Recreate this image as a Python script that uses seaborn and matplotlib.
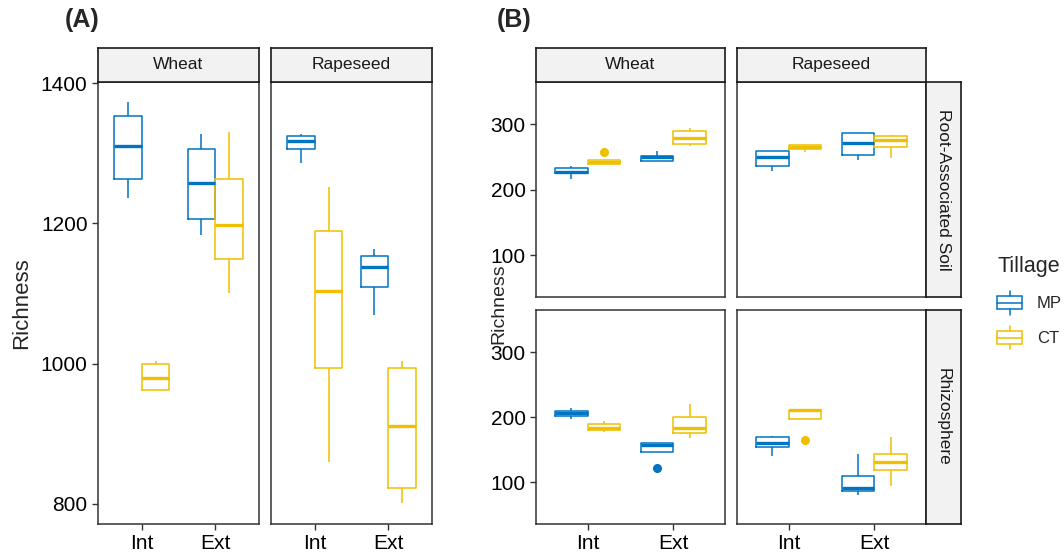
import matplotlib
matplotlib.use("Agg")
import matplotlib.pyplot as plt
import seaborn as sns
import pandas as pd
from matplotlib.patches import Rectangle
from matplotlib.lines import Line2D
from matplotlib.legend_handler import HandlerBase

positions = ["Int", "Ext"]
tillage = ["MP", "CT"]
crops = ["Wheat", "Rapeseed"]
compartments = ["Root-Associated Soil", "Rhizosphere"]
palette = {"MP": "#0073C2", "CT": "#EFC000"}

# (A) total richness, values per (position, tillage)
rich_A_wheat = {
    ("Int", "MP"): [1237, 1263, 1311, 1354, 1373],
    ("Int", "CT"): [962, 962, 980, 999, 1003],
    ("Ext", "MP"): [1184, 1207, 1258, 1307, 1328],
    ("Ext", "CT"): [1101, 1150, 1198, 1264, 1330],
}
rich_A_rapeseed = {
    ("Int", "MP"): [1287, 1306, 1318, 1325, 1328],
    ("Int", "CT"): [860, 994, 1103, 1189, 1252],
    ("Ext", "MP"): [1069, 1110, 1138, 1154, 1164],
    ("Ext", "CT"): [801, 822, 911, 994, 1003],
}

# (B) richness by compartment
rich_B_soil_wheat = {
    ("Int", "MP"): [217, 225, 228, 233, 237],
    ("Int", "CT"): [239, 239, 239, 241, 243, 244, 246, 246, 258],
    ("Ext", "MP"): [244, 244, 250, 252, 260],
    ("Ext", "CT"): [267, 270, 279, 290, 295],
}
rich_B_soil_rapeseed = {
    ("Int", "MP"): [229, 236, 250, 260, 260],
    ("Int", "CT"): [258, 263, 266, 269, 269],
    ("Ext", "MP"): [245, 253, 271, 287, 287],
    ("Ext", "CT"): [249, 265, 276, 282, 284],
}
rich_B_rhizo_wheat = {
    ("Int", "MP"): [198, 202, 206, 210, 214],
    ("Int", "CT"): [177, 180, 184, 190, 195],
    ("Ext", "MP"): [122, 147, 147, 152, 158, 159, 160, 160, 160],
    ("Ext", "CT"): [168, 176, 183, 200, 221],
}
rich_B_rhizo_rapeseed = {
    ("Int", "MP"): [140, 154, 161, 169, 171],
    ("Int", "CT"): [165, 198, 198, 204, 211, 211, 212, 212, 212],
    ("Ext", "MP"): [80, 86, 92, 110, 143],
    ("Ext", "CT"): [94, 119, 132, 143, 169],
}


def to_frame(d):
    rows = []
    for (pos, till), vals in d.items():
        for v in vals:
            rows.append({"Position": pos, "Tillage": till, "Richness": v})
    return pd.DataFrame(rows)


sns.set_style("ticks")
plt.rcParams["font.family"] = ["Liberation Sans", "DejaVu Sans"]

W, H = 1064, 558
fig = plt.figure(figsize=(W / 100, H / 100), dpi=100)


def add_px(l, t, r, b):
    return fig.add_axes([l / W, 1 - b / H, (r - l) / W, (b - t) / H])


def style_axes(ax, show_x, show_y):
    for s in ax.spines.values():
        s.set_visible(True)
        s.set_color("#333333")
        s.set_linewidth(1.1)
    ax.set_xlabel("")
    ax.set_ylabel("")
    ax.tick_params(axis="both", colors="#333333", width=1.0, length=4,
                   labelsize=15, labelcolor="black")
    if not show_x:
        ax.tick_params(axis="x", bottom=False, labelbottom=False)
    if not show_y:
        ax.tick_params(axis="y", left=False, labelleft=False)


def draw_box(ax, d, ylim, yticks, show_x, show_y):
    df = to_frame(d)
    sns.boxplot(data=df, x="Position", y="Richness", hue="Tillage",
                order=positions, hue_order=tillage, palette=palette,
                fill=False, width=0.75, gap=0, linewidth=1.1, showcaps=False,
                medianprops={"linewidth": 2.4},
                flierprops={"marker": "o", "markersize": 5.5},
                legend=False, ax=ax)
    for ln in ax.lines:
        if ln.get_marker() == "o":
            ln.set_markerfacecolor(ln.get_markeredgecolor())
    # ggplot-like discrete expansion around the two categories (at 0 and 1)
    ax.set_xlim(-0.6, 1.6)
    ax.set_ylim(*ylim)
    ax.set_yticks(yticks)
    style_axes(ax, show_x, show_y)


def strip(l, t, r, b, text, rot=0):
    s = add_px(l, t, r, b)
    s.set_facecolor("#F2F2F2")
    s.set_xticks([])
    s.set_yticks([])
    for sp in s.spines.values():
        sp.set_visible(True)
        sp.set_color("#1a1a1a")
        sp.set_linewidth(1.2)
    s.text(0.5, 0.5, text, ha="center", va="center", rotation=rot,
           fontsize=12.5, color="#1a1a1a", transform=s.transAxes)


# ---- panel A
ylimA = (771, 1402)
ticksA = [800, 1000, 1200, 1400]
axA1 = add_px(98, 82, 259, 524)
draw_box(axA1, rich_A_wheat, ylimA, ticksA, True, True)
axA2 = add_px(271, 82, 432, 524)
draw_box(axA2, rich_A_rapeseed, ylimA, ticksA, True, False)
strip(98, 48, 259, 82, crops[0])
strip(271, 48, 432, 82, crops[1])
fig.text(22 / W, 1 - 303 / H, "Richness", rotation=90, ha="center",
         va="center", fontsize=16)
fig.text(82 / W, 1 - 20 / H, "(A)", ha="center", va="center",
         fontsize=18, fontweight="bold")

# ---- panel B
ylimB = (36, 365)
ticksB = [100, 200, 300]
axB1 = add_px(536, 82, 725, 297)
draw_box(axB1, rich_B_soil_wheat, ylimB, ticksB, False, True)
axB2 = add_px(737, 82, 926, 297)
draw_box(axB2, rich_B_soil_rapeseed, ylimB, ticksB, False, False)
axB3 = add_px(536, 310, 725, 524)
draw_box(axB3, rich_B_rhizo_wheat, ylimB, ticksB, True, True)
axB4 = add_px(737, 310, 926, 524)
draw_box(axB4, rich_B_rhizo_rapeseed, ylimB, ticksB, True, False)
strip(536, 48, 725, 82, crops[0])
strip(737, 48, 926, 82, crops[1])
strip(926, 82, 961, 297, compartments[0], rot=270)
strip(926, 310, 961, 524, compartments[1], rot=270)
fig.text(499 / W, 1 - 304 / H, "Richness", rotation=90, ha="center",
         va="center", fontsize=14)
fig.text(514 / W, 1 - 20 / H, "(B)", ha="center", va="center",
         fontsize=18, fontweight="bold")


# ---- legend with boxplot glyphs
class BoxKey(HandlerBase):
    def create_artists(self, legend, orig, xd, yd, width, height, fontsize, trans):
        c = orig.get_edgecolor()
        x0, y0 = -xd, -yd
        box = Rectangle((x0, y0 + 0.15 * height), width, 0.7 * height,
                        fill=False, ec=c, lw=1.1, transform=trans)
        med = Line2D([x0, x0 + width], [y0 + 0.5 * height] * 2, color=c,
                     lw=1.1, transform=trans)
        w1 = Line2D([x0 + width / 2] * 2, [y0 + 0.85 * height, y0 + 1.15 * height],
                    color=c, lw=1.1, transform=trans)
        w2 = Line2D([x0 + width / 2] * 2, [y0 - 0.15 * height, y0 + 0.15 * height],
                    color=c, lw=1.1, transform=trans)
        return [box, med, w1, w2]


handles = [Rectangle((0, 0), 1, 1, fill=False, ec=palette[t]) for t in tillage]
fig.legend(handles, tillage, title="Tillage", loc="upper left",
           bbox_to_anchor=(997 / W, 1 - 256 / H), frameon=False,
           borderpad=0, borderaxespad=0,
           handler_map={Rectangle: BoxKey()}, handlelength=1.5,
           handleheight=1.3, fontsize=12, title_fontsize=15.5,
           alignment="left", labelspacing=1.0, handletextpad=0.9)

fig.savefig("out.png", dpi=100)
